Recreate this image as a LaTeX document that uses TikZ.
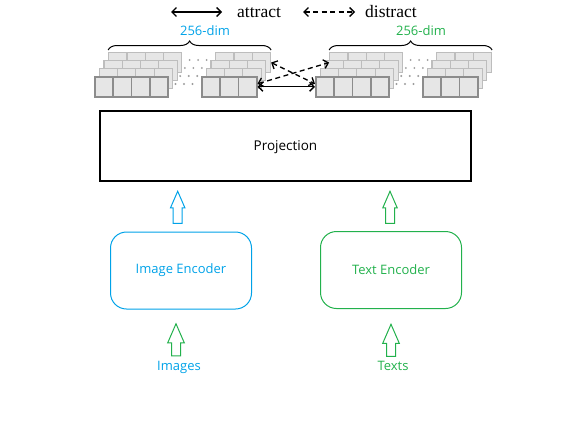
\documentclass[tikz,border=0pt]{standalone}
\usepackage{fontspec}
\setmainfont{Open Sans}
\newfontfamily\legendfont{Liberation Serif}
\usetikzlibrary{arrows.meta,decorations.pathreplacing,shapes.arrows}
\definecolor{imgblue}{HTML}{00A2E8}
\definecolor{txtgreen}{HTML}{22B14C}
\definecolor{cellfill}{HTML}{E6E6E6}
\definecolor{cellback}{HTML}{BDBDBD}
\definecolor{cellfront}{HTML}{8C8C8C}
\definecolor{dotgray}{HTML}{9C9C9C}

\begin{document}
\begin{tikzpicture}[x=1pt, y=-1pt]
        \tikzstyle{every node}=[inner sep=0pt]
        \tikzstyle{cell}=[draw=cellback, fill=cellfill, line width=1.1pt, minimum width=18.3pt, minimum height=20pt, anchor=north west]
        \tikzstyle{layer0}=[draw=cellfront, line width=1.6pt]
        \tikzstyle{layer1}=[]
        \tikzstyle{layer2}=[]
        \tikzstyle{layer3}=[]
        \tikzstyle{dot}=[circle, fill=dotgray, minimum size=2.1pt]
        \tikzstyle{encoder}=[draw, rounded corners=16pt, line width=1pt, minimum width=141pt, minimum height=77pt, font=\fontsize{13}{15}\selectfont]
        \tikzstyle{uparrow}=[draw, single arrow, shape border rotate=90, anchor=tip, inner sep=4pt, line width=1pt, single arrow tip angle=47, single arrow head extend=2.7pt, minimum height=32pt]
        \tikzstyle{link}=[line width=1.3pt, {Straight Barb[length=4.5pt, width=9pt]}-{Straight Barb[length=4.5pt, width=9pt]}]
        \tikzstyle{dashlink}=[link, dash pattern=on 5pt off 3.5pt]
        \tikzstyle{dim}=[font=\fontsize{13}{15}\selectfont]
        \tikzstyle{legend}=[font=\legendfont\fontsize{17.5}{20}\selectfont, anchor=base west]

        \path[use as bounding box] (0, 0) rectangle (572, 426);

        \foreach \k in {3, 2, 1, 0}
        {
          \foreach \j in {0, ..., 3}
          {
            \path (94+\k*4.7+\j*18.3, 76-\k*8) node[cell, layer\k] (la\k\j) {};
            \path (315+\k*4.7+\j*18.3, 76-\k*8) node[cell, layer\k] (ra\k\j) {};
          }
          \foreach \j in {0, ..., 2}
          {
            \path (201+\k*4.7+\j*18.3, 76-\k*8) node[cell, layer\k] (lb\k\j) {};
            \path (422+\k*4.7+\j*18.3, 76-\k*8) node[cell, layer\k] (rb\k\j) {};
          }
          \foreach \d in {1, 2, 3}
          {
            \path (167+\k*4.7+\d*8.5, 84-\k*8) node[dot] (ld\k\d) {};
            \path (388+\k*4.7+\d*8.5, 84-\k*8) node[dot] (rd\k\d) {};
          }
        }

        \draw[line width=1pt, decorate, decoration={brace, amplitude=9pt}]
          ([yshift=2pt]la30.north west) -- ([yshift=2pt]lb32.north east);
        \draw[line width=1pt, decorate, decoration={brace, amplitude=9pt}]
          ([yshift=2pt]ra30.north west) -- ([yshift=2pt]rb32.north east);
        \node[dim, text=imgblue] (ldim) at (205, 31) {256-dim};
        \node[dim, text=txtgreen] (rdim) at (421, 31) {256-dim};

        \draw[link] (lb02.east) -- (ra00.west);
        \draw[dashlink] ([yshift=3pt]lb02.east) -- (ra30.west);
        \draw[dashlink] (lb32.east) -- ([yshift=3pt]ra00.west);

        \coordinate (sa) at (171, 12);
        \coordinate (sb) at (222, 12);
        \coordinate (da) at (303, 12);
        \coordinate (db) at (355, 12);
        \draw[link] (sa) -- (sb);
        \draw[dashlink] (da) -- (db);
        \node[legend] (attract) at (237, 17) {attract};
        \node[legend] (distract) at (365, 17) {distract};

        \node[draw, line width=1.2pt, minimum width=371pt, minimum height=70pt, text depth=0pt, font=\fontsize{13.5}{15}\selectfont] (proj) at (285.5, 146) {Projection};

        \node[encoder, draw=imgblue, text=imgblue] (imgenc) at (181, 270.5) {Image Encoder};
        \node[encoder, draw=txtgreen, text=txtgreen] (txtenc) at (391, 270) {Text Encoder};

        \node[uparrow, draw=imgblue] (imgup) at (177.7, 190) {};
        \node[uparrow, draw=txtgreen] (txtup) at (390, 190) {};
        \node[uparrow, draw=txtgreen, single arrow head extend=3.8pt] (imgin) at (176, 322.5) {};
        \node[uparrow, draw=txtgreen, single arrow head extend=3.8pt] (txtin) at (391, 323) {};

        \node[dim, text=imgblue] (imgs) at (179, 367) {Images};
        \node[dim, text=txtgreen] (txts) at (393, 366) {Texts};
      \end{tikzpicture}
\end{document}
